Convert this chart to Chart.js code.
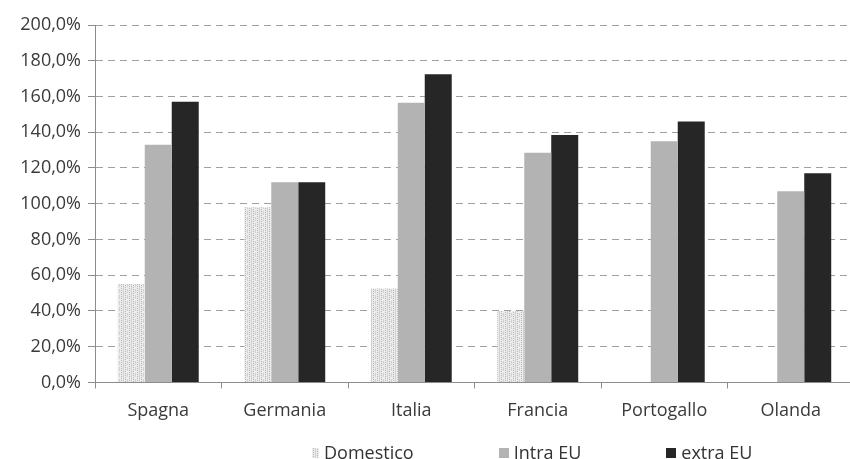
<!DOCTYPE html>
<html>
<head>
<meta charset="utf-8">
<script src="https://cdn.jsdelivr.net/npm/chart.js@4"></script>
<style>
  html, body { margin: 0; padding: 0; background: #fff; overflow: hidden; width: 850px; height: 459px; }
  #wrap { position: relative; width: 850px; height: 459px; overflow: hidden; }
  #c { position: absolute; left: 0; top: 0; }
  #legend { position: absolute; left: 312px; top: 440px; display: flex; gap: 85px;
            font-family: 'Open Sans', sans-serif; font-size: 18px; color: #333; line-height: 24px; }
  .item { display: flex; align-items: center; white-space: nowrap; }
  .mk { display: inline-block; height: 10px; margin-right: 5px; margin-top: 2px; }
</style>
</head>
<body>
<div id="wrap"><canvas id="c" width="860" height="459"></canvas><div id="legend"></div></div>
<script>
const categories = ["Spagna", "Germania", "Italia", "Francia", "Portogallo", "Olanda"];
const domestico = [55, 98, 52.5, 40, null, null];
const intraEU = [133, 112, 156.5, 128.5, 135, 107];
const extraEU = [157, 112, 172.5, 138.5, 146, 117];
const seriesNames = ["Domestico", "Intra EU", "extra EU"];

function makePatternCanvas() {
  const p = document.createElement('canvas');
  p.width = 8; p.height = 6;
  const g = p.getContext('2d');
  g.fillStyle = '#ececec';
  g.fillRect(0, 0, 8, 6);
  g.fillStyle = '#b4b4b4';
  for (let y = 0; y < 6; y += 2) {
    g.fillRect(1, y, 1, 1);
    g.fillRect(5, y + 1, 1, 1);
  }
  g.fillStyle = '#d0d0d0';
  g.fillRect(3, 0, 1, 6);
  g.fillRect(7, 1, 1, 4);
  return p;
}

const patCanvas = makePatternCanvas();
const ctx = document.getElementById('c').getContext('2d');
const pattern = ctx.createPattern(patCanvas, 'repeat');
const FONT = "'Open Sans', sans-serif";
const colors = [pattern, '#b3b3b3', '#262626'];

new Chart(ctx, {
  type: 'bar',
  data: {
    labels: categories,
    datasets: [
      { label: seriesNames[0], data: domestico, backgroundColor: colors[0], borderWidth: 0 },
      { label: seriesNames[1], data: intraEU, backgroundColor: colors[1], borderWidth: 0 },
      { label: seriesNames[2], data: extraEU, backgroundColor: colors[2], borderWidth: 0 }
    ]
  },
  options: {
    responsive: false,
    animation: false,
    layout: { padding: { left: 0, right: 6, top: 25, bottom: 25 } },
    datasets: { bar: { categoryPercentage: 0.64, barPercentage: 1.0 } },
    plugins: { tooltip: { enabled: false }, legend: { display: false } },
    scales: {
      x: {
        grid: { display: true, offset: true, drawOnChartArea: false, drawTicks: true, tickLength: 6, color: '#8c8c8c' },
        border: { display: true, color: '#8c8c8c', width: 1 },
        ticks: { color: '#3a3a3a', font: { family: FONT, size: 18 }, padding: 12 }
      },
      y: {
        min: 0, max: 200,
        afterFit: s => { s.width = 95; },
        ticks: {
          stepSize: 20, color: '#3a3a3a', padding: 7,
          font: { family: FONT, size: 18 },
          callback: v => v.toFixed(1).replace('.', ',') + '%'
        },
        grid: { color: '#a0a0a0', tickLength: 7, tickColor: '#8c8c8c', tickBorderDash: [], drawTicks: true },
        border: { display: true, color: '#8c8c8c', width: 1, dash: [7, 5] }
      }
    }
  }
});

const legend = document.getElementById('legend');
seriesNames.forEach((name, i) => {
  const it = document.createElement('div');
  it.className = 'item';
  const mk = document.createElement('span');
  mk.className = 'mk';
  if (i === 0) {
    mk.style.width = '7px';
    mk.style.backgroundImage = 'url(' + patCanvas.toDataURL() + ')';
  } else {
    mk.style.width = '10px';
    mk.style.background = colors[i];
  }
  it.appendChild(mk);
  const t = document.createElement('span');
  t.textContent = name;
  it.appendChild(t);
  legend.appendChild(it);
});
</script>
</body>
</html>
